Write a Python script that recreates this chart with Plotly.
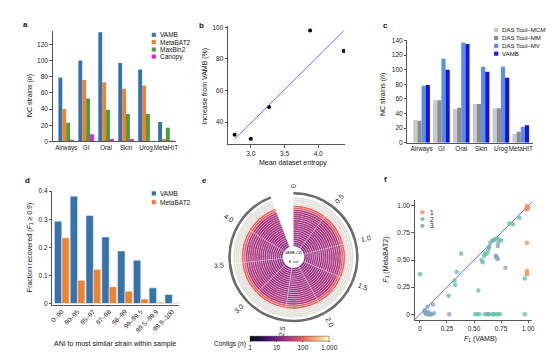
import numpy as np
import plotly.graph_objects as go

W, H = 554, 359
FONT = "Liberation Sans, Arial, sans-serif"

# ---------------- data ----------------
sites = ["Airways", "GI", "Oral", "Skin", "Urog", "MetaHIT"]
a_vamb = [79, 100, 135, 97, 89, 24]
a_metabat2 = [40, 76, 73, 65, 69, 3]
a_maxbin2 = [23, 53, 39, 34, 34, 17]
a_canopy = [2, 9, 3, 3, 0, 1]

b_entropy = [2.76, 3.00, 3.27, 3.88, 4.38]
b_increase = [32, 29.5, 49.5, 98, 85]

c_mcm = [31, 58, 46, 53, 47, 12]
c_mm = [30, 58, 48, 53, 47, 15]
c_mv = [78, 115, 137, 104, 104, 22]
c_vamb = [79, 100, 135, 97, 89, 24]

ani_bins = ["0–90", "90–95", "95–97", "97–98", "98–99", "99–99.5", "99.5–99.9", "99.9–100"]
d_vamb = [0.293, 0.382, 0.313, 0.237, 0.187, 0.154, 0.056, 0.032]
d_metabat2 = [0.234, 0.083, 0.122, 0.060, 0.044, 0.016, 0.005, 0.003]

e_bin_start_mb = [0.0, 0.5, 1.0, 1.5, 2.0, 2.5, 3.0, 3.5, 4.0]
e_bin_len_mb = 0.5
e_ring_contigs = [16, 17, 18, 19, 20, 20, 21, 21, 22, 22, 23, 23, 24, 24, 25, 25, 26, 27, 90, 100]
e_empty_rings = 4
e_tick_mb = [0, 0.5, 1.0, 1.5, 2.0, 2.5, 3.0, 3.5, 4.0]
e_cbar_vals = [1, 10, 100, 1000]
e_cbar_text = ["1", "10", "100", "1,000"]

f1_x = [0.99, 0.99, 1.0, 0.99, 0.98, 1.0, 0.99, 0.99, 0.99, 0.99]
f1_y = [0.97, 0.98, 0.99, 1.0, 0.97, 0.98, 0.66, 0.40, 0.38, 0.37]
f2_x = [0.0, 0.38, 0.34, 0.32, 0.325, 0.265, 0.54, 0.57, 0.58, 0.595, 0.60, 0.62, 0.63, 0.64,
        0.65, 0.67, 0.69, 0.71, 0.73, 0.75, 0.725, 0.71, 0.72, 0.83, 0.86, 0.92, 0.97, 0.97,
        0.04, 0.05, 0.06, 0.07, 0.08, 0.09, 0.10, 0.13, 0.06, 0.08,
        0.51, 0.53, 0.55, 0.60, 0.62, 0.64, 0.67, 0.68, 0.70, 0.72, 0.74]
f2_y = [0.37, 0.56, 0.39, 0.31, 0.27, 0.17, 0.22, 0.50, 0.48, 0.54, 0.56, 0.56, 0.59, 0.62,
        0.66, 0.68, 0.69, 0.70, 0.69, 0.68, 0.66, 0.53, 0.51, 0.84, 0.83, 0.89, 0.33, 0.0,
        0.03, 0.01, 0.0, 0.0, 0.01, 0.0, 0.0, 0.01, 0.02, 0.02,
        0, 0, 0, 0, 0, 0, 0, 0, 0, 0, 0]
f3_x = [0.07, 0.12, 0.045, 0.05, 0.11, 0.27, 0.70, 0.71, 0.72, 0.79, 0.64, 0.68, 0.63, 0.06, 0.09]
f3_y = [0.07, 0.09, 0.035, 0.02, 0.0, 0.0, 0.54, 0.52, 0.63, 0.43, 0.62, 0.68, 0.0, 0.01, 0.0]
f_diag = [-0.05, 1.05]

# ---------------- helpers ----------------
def px(x):
    return x / W

def py(y):
    return 1 - y / H

C_VAMB, C_MB2, C_MAX, C_CAN = "#3572b0", "#f0812d", "#4d9b3a", "#e11ee6"
C_MCM, C_MM, C_MV, C_VB = "#c9c9c9", "#8c8c8c", "#5b8fe2", "#1414e6"
S1, S2, S3 = "#fc8d62", "#66c2a5", "#8da0cb"

fig = go.Figure()

# panel a
for k, (vals, col) in enumerate([(a_vamb, C_VAMB), (a_metabat2, C_MB2), (a_maxbin2, C_MAX), (a_canopy, C_CAN)]):
    fig.add_trace(go.Bar(x=sites, y=vals, width=0.195, offset=-0.39 + k * 0.195,
                         marker=dict(color=col, line=dict(width=0)), xaxis="x", yaxis="y"))

# panel b
fig.add_trace(go.Scatter(x=b_entropy, y=b_increase, mode="markers",
                         marker=dict(color="black", size=4), xaxis="x2", yaxis="y2"))
slope, icpt = np.polyfit(b_entropy, b_increase, 1)
xfit = np.array([min(b_entropy), max(b_entropy)])
fig.add_trace(go.Scatter(x=xfit, y=slope * xfit + icpt, mode="lines",
                         line=dict(color="#4d7cf0", width=1), xaxis="x2", yaxis="y2"))

# panel c
for k, (vals, col) in enumerate([(c_mcm, C_MCM), (c_mm, C_MM), (c_mv, C_MV), (c_vamb, C_VB)]):
    fig.add_trace(go.Bar(x=sites, y=vals, width=0.209, offset=-0.418 + k * 0.209,
                         marker=dict(color=col, line=dict(width=0)), xaxis="x3", yaxis="y3"))

# panel d
for k, (vals, col) in enumerate([(d_vamb, C_VAMB), (d_metabat2, C_MB2)]):
    fig.add_trace(go.Bar(x=ani_bins, y=vals, width=0.47, offset=-0.47 + k * 0.47,
                         marker=dict(color=col, line=dict(width=0.5, color="white")),
                         xaxis="x4", yaxis="y4"))

# panel e (circular heatmap)
deg_per_mb = 75.4
r0, dr = 11.0, 2.1
thetas, widths, bases, cols = [], [], [], []
for i, v in enumerate(e_ring_contigs):
    for s in e_bin_start_mb:
        thetas.append((s + e_bin_len_mb / 2) * deg_per_mb)
        widths.append(e_bin_len_mb * deg_per_mb)
        bases.append(r0 + i * dr)
        cols.append(np.log10(v))
fig.add_trace(go.Barpolar(
    theta=thetas, r=[dr] * len(thetas), base=bases, width=widths,
    marker=dict(color=cols, colorscale="Magma", cmin=0, cmax=3,
                line=dict(color="white", width=0.3), showscale=True,
                colorbar=dict(orientation="h", x=px(281.2), xanchor="center", y=py(338.7),
                              yanchor="middle", len=79, lenmode="pixels", thickness=5,
                              thicknessmode="pixels", tickvals=np.log10(e_cbar_vals),
                              ticktext=e_cbar_text, tickfont=dict(size=6.5, color="#222"),
                              ticks="outside", ticklen=1.5, tickwidth=0.5,
                              outlinewidth=0.5, outlinecolor="#444", xpad=0, ypad=0)),
    subplot="polar"))
n_full = len(e_ring_contigs)
thetas_g, widths_g, bases_g = [], [], []
for i in range(e_empty_rings):
    for s in e_bin_start_mb:
        thetas_g.append((s + e_bin_len_mb / 2) * deg_per_mb)
        widths_g.append(e_bin_len_mb * deg_per_mb)
        bases_g.append(r0 + (n_full + i) * dr)
fig.add_trace(go.Barpolar(theta=thetas_g, r=[dr] * len(thetas_g), base=bases_g, width=widths_g,
                          marker=dict(color="#e3e0db", line=dict(color="white", width=0.3)),
                          subplot="polar"))
arc_base = r0 + (n_full + e_empty_rings) * dr + 2.4
fig.add_trace(go.Barpolar(theta=[(s + e_bin_len_mb / 2) * deg_per_mb for s in e_bin_start_mb],
                          r=[2.6] * len(e_bin_start_mb), base=[arc_base] * len(e_bin_start_mb),
                          width=[e_bin_len_mb * deg_per_mb] * len(e_bin_start_mb),
                          marker=dict(color="#6b6b6b", line=dict(width=0)), subplot="polar"))

# panel f
fig.add_trace(go.Scatter(x=f_diag, y=f_diag, mode="lines", line=dict(color="#6a6aff", width=1),
                         xaxis="x5", yaxis="y5"))
for xs, ys, col in [(f2_x, f2_y, S2), (f3_x, f3_y, S3), (f1_x, f1_y, S1)]:
    fig.add_trace(go.Scatter(x=xs, y=ys, mode="markers",
                             marker=dict(color=col, size=4.5, opacity=0.8, line=dict(width=0)),
                             xaxis="x5", yaxis="y5"))

# ---------------- axes ----------------
ax = dict(showgrid=False, zeroline=False, showline=True, linecolor="#555", linewidth=0.8,
          ticks="outside", ticklen=2.5, tickwidth=0.8, tickcolor="#555",
          tickfont=dict(size=6.5, color="#222", family=FONT))

layout = dict(
    xaxis=dict(ax, domain=[px(42), px(167)], anchor="y", range=[-0.68, 5.53], ticks="",
               tickangle=0, tickfont=dict(size=6.3, color="#222", family=FONT)),
    yaxis=dict(ax, domain=[py(132), py(19.8)], anchor="x", range=[0, 136],
               tickvals=[0, 20, 40, 60, 80, 100, 120]),
    xaxis2=dict(ax, domain=[px(219), px(337)], anchor="y2", range=[2.662, 4.397],
                tickvals=[3.0, 3.5, 4.0], tickformat=".1f"),
    yaxis2=dict(ax, domain=[py(135), py(14)], anchor="x2", range=[25.9, 101.06],
                tickvals=[40, 60, 80, 100]),
    xaxis3=dict(ax, domain=[px(400), px(527)], anchor="y3", range=[-0.715, 5.63], ticks="",
                tickangle=0, tickfont=dict(size=6.3, color="#222", family=FONT)),
    yaxis3=dict(ax, domain=[py(133.3), py(29)], anchor="x3", range=[0, 140],
                tickvals=[0, 20, 40, 60, 80, 100, 120, 140]),
    xaxis4=dict(ax, domain=[px(41.7), px(170)], anchor="y4", range=[-0.6, 7.45], ticks="",
                tickangle=-45),
    yaxis4=dict(ax, domain=[py(298.5), py(182.7)], anchor="x4", range=[-0.004, 0.4],
                tickvals=[0, 0.1, 0.2, 0.3, 0.4], ticktext=["0", "0.1", "0.2", "0.3", "0.4"]),
    xaxis5=dict(ax, domain=[px(407.3), px(526)], anchor="y5", range=[-0.0495, 1.039],
                tickvals=[0, 0.25, 0.5, 0.75, 1.0], ticktext=["0", "0.25", "0.50", "0.75", "1.00"]),
    yaxis5=dict(ax, domain=[py(314), py(192)], anchor="x5", range=[-0.0515, 1.052],
                tickvals=[0, 0.25, 0.5, 0.75, 1.0], ticktext=["0", "0.25", "0.50", "0.75", "1.00"]),
    polar=dict(domain=dict(x=[px(218), px(352)], y=[py(317), py(183)]),
               bgcolor="rgba(0,0,0,0)", barmode="overlay", bargap=0,
               radialaxis=dict(visible=False, range=[0, 67], showticklabels=False),
               angularaxis=dict(visible=False, direction="clockwise", rotation=90,
                                showticklabels=False)),
)

annotations = []
shapes = []

def text(x, y, t, size=7, angle=0, xanchor="center", color="#111", bold=False):
    annotations.append(dict(x=px(x), y=py(y), xref="paper", yref="paper",
                            text=("<b>%s</b>" % t) if bold else t, showarrow=False,
                            textangle=angle, xanchor=xanchor, yanchor="middle",
                            font=dict(size=size, color=color, family=FONT)))

# panel letters
for lab, (x, y) in zip("abcdef", [(15, 13), (192, 14), (378, 14), (17, 172), (195, 172), (378, 171)]):
    text(x, y, lab, size=8, bold=True)

# axis titles
text(20, 85, "NC strains (<i>n</i>)", angle=-90)
text(195, 76, "Increase from VAMB (%)", angle=-90)
text(285, 154, "Mean dataset entropy")
text(376, 84, "NC strains (<i>n</i>)", angle=-90)
text(19, 240, "Fraction recovered (<i>F</i><sub>1</sub> ≥ 0.9)", angle=-90)
text(105, 339, "ANI to most similar strain within sample")
text(378, 253, "<i>F</i><sub>1</sub> (MetaBAT2)", angle=-90)
text(474, 333, "<i>F</i><sub>1</sub> (VAMB)")

# legends
def sq_legend(x, ys, labels, colors, size=6.5, gap=6.5):
    for yy, lab, col in zip(ys, labels, colors):
        shapes.append(dict(type="rect", xref="paper", yref="paper",
                           x0=px(x), x1=px(x + 4.2), y0=py(yy + 2.1), y1=py(yy - 2.1),
                           fillcolor=col, line=dict(width=0)))
        text(x + gap, yy, lab, size=size, xanchor="left")

sq_legend(142, [23.3, 30.7, 38.3, 45.5], ["VAMB", "MetaBAT2", "MaxBin2", "Canopy"],
          [C_VAMB, C_MB2, C_MAX, C_CAN])
sq_legend(487.5, [18.3, 26.5, 34.5, 42.5], ["DAS Tool–MCM", "DAS Tool–MM", "DAS Tool–MV", "VAMB"],
          [C_MCM, C_MM, C_MV, C_VB], size=6.1, gap=6.0)
sq_legend(142, [185, 194], ["VAMB", "MetaBAT2"], [C_VAMB, C_MB2])
for yy, lab, col in zip([204.3, 211.2, 218.2], ["1", "2", "3"], [S1, S2, S3]):
    shapes.append(dict(type="circle", xref="paper", yref="paper",
                       x0=px(413), x1=px(417.4), y0=py(yy + 2.2), y1=py(yy - 2.2),
                       fillcolor=col, opacity=0.85, line=dict(width=0)))
    text(421, yy, lab, size=6.5, xanchor="left")

# panel e labels
cx, cy = 285, 250
for t in e_tick_mb:
    th = t * deg_per_mb
    rr = 73 if t == 0 else 76
    xx = cx + rr * np.sin(np.radians(th))
    yy = cy - rr * np.cos(np.radians(th))
    ang = th - 90
    if ang > 90:
        ang -= 180
    lab = "0" if t == 0 else "%.1f" % t
    text(xx, yy, lab, size=7, angle=ang, color="#222")
text(cx, cy, "VAMB C30<br>–<br><i>E. coli</i>", size=3.5)
text(239, 338.7, "Contigs (<i>n</i>)", size=6.5, xanchor="right")

fig.update_layout(**layout)
fig.update_layout(width=W, height=H, margin=dict(l=0, r=0, t=0, b=0), showlegend=False,
                  barmode="overlay", paper_bgcolor="white", plot_bgcolor="white",
                  font=dict(family=FONT, size=6.5, color="#222"),
                  annotations=annotations, shapes=shapes)

fig.write_html("out.html", config={"displayModeBar": False})
